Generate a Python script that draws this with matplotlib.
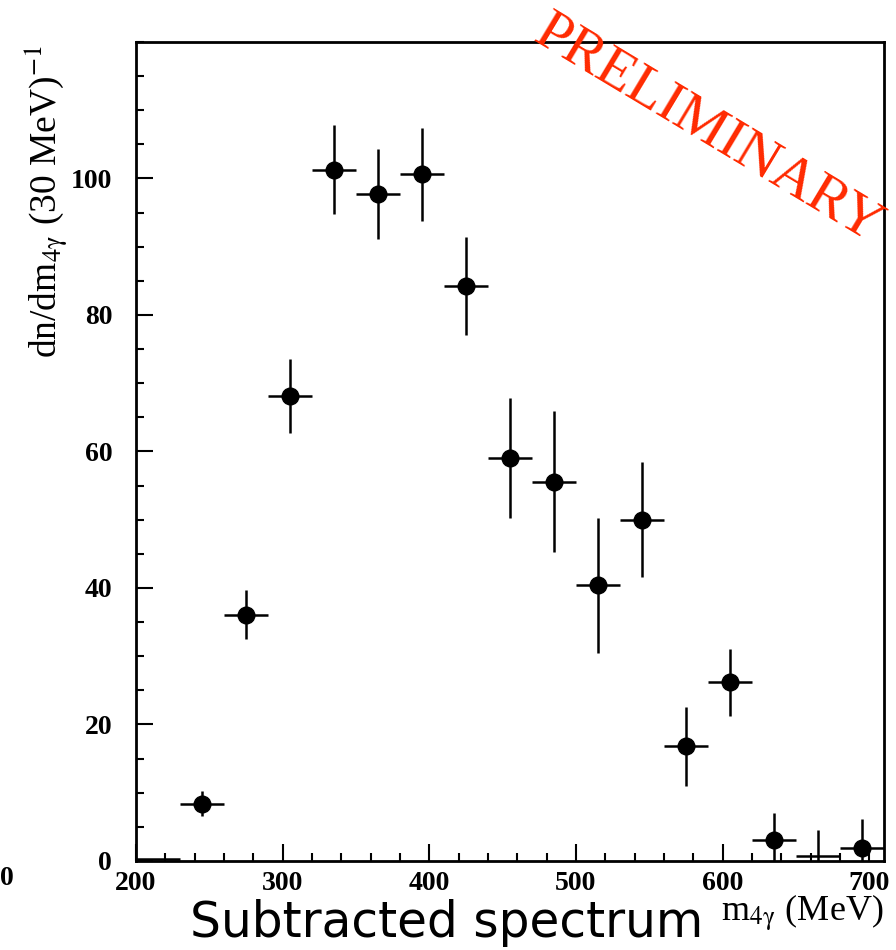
import matplotlib
matplotlib.use("Agg")
import matplotlib.pyplot as plt
import numpy as np

# ---- data ----
bin_centers = [215, 245, 275, 305, 335, 365, 395, 425, 455, 485, 515, 545, 575, 605, 635, 665, 695]
counts      = [0.3, 8.4, 36.1, 68.1, 101.3, 97.7, 100.6, 84.2, 59.1, 55.6, 40.4, 50.0, 16.8, 26.2, 3.1, 0.7, 1.9]
errors      = [0.0, 1.8, 3.6, 5.4, 6.5, 6.6, 6.8, 7.2, 8.8, 10.4, 9.9, 8.4, 5.8, 4.9, 3.9, 3.8, 4.3]
show_marker = [False, True, True, True, True, True, True, True, True, True, True, True, True, True, True, False, True]
bin_halfwidth = 15

xticks = [200, 300, 400, 500, 600, 700]
yticks = [0, 20, 40, 60, 80, 100]

plt.rcParams['mathtext.fontset'] = 'stix'
plt.rcParams['font.family'] = 'Liberation Serif'
serif = 'Liberation Serif'

fig = plt.figure(figsize=(8.96, 9.5), dpi=100)
ax = fig.add_axes([0.1516, 0.0937, 0.9866 - 0.1516, 0.9558 - 0.0937])

x = np.array(bin_centers, dtype=float)
y = np.array(counts, dtype=float)
e = np.array(errors, dtype=float)
m = np.array(show_marker)

ax.errorbar(x[m], y[m], yerr=e[m], xerr=bin_halfwidth, fmt='o', color='black',
            markersize=12, elinewidth=1.8, capsize=0, zorder=3)
ax.errorbar(x[~m], y[~m], yerr=e[~m], xerr=bin_halfwidth, fmt='none', ecolor='black',
            elinewidth=1.8, capsize=0, zorder=3)

ax.set_xlim(200, 710)
ax.set_ylim(0, 120)
ax.set_xticks(xticks)
ax.set_yticks(yticks)
ax.set_xticks(np.arange(200, 711, 20), minor=True)
ax.set_yticks(np.arange(0, 121, 5), minor=True)
ax.tick_params(axis='both', which='both', direction='in', top=False, right=False)
ax.tick_params(axis='both', which='major', length=12, width=1.5)
ax.tick_params(axis='both', which='minor', length=6, width=1.5)
ax.tick_params(axis='x', which='major', pad=7)
ax.tick_params(axis='y', which='major', pad=17)
ax.set_xticklabels([str(v) for v in xticks], family=serif, weight='bold', size=20)
ax.set_yticklabels([str(v) for v in yticks], family=serif, weight='bold', size=20)
for s in ax.spines.values():
    s.set_linewidth(2)

# axis titles
fig.text(0.053, 0.953, r"dn/dm$_{4\mathrm{\gamma}}$ (30 MeV)$^{-1}$", rotation=90,
         ha='center', va='top', fontsize=27, family=serif)
fig.text(0.986, 0.038, r"m$_{4\mathrm{\gamma}}$ (MeV)", ha='right', va='center',
         fontsize=26, family=serif)

fig.text(0.212, 0.028, "Subtracted spectrum", ha='left', va='center', fontsize=35,
         family='DejaVu Sans')

fig.text(0.0, 0.075, "0", ha='left', va='center', fontsize=20, family=serif,
         weight='bold')

fig.text(0.790, 0.863, "PRELIMINARY", rotation=-31, ha='center', va='center',
         rotation_mode='anchor', color='#ff2a00', fontsize=42, family=serif)

fig.savefig("out.png", dpi=100)
